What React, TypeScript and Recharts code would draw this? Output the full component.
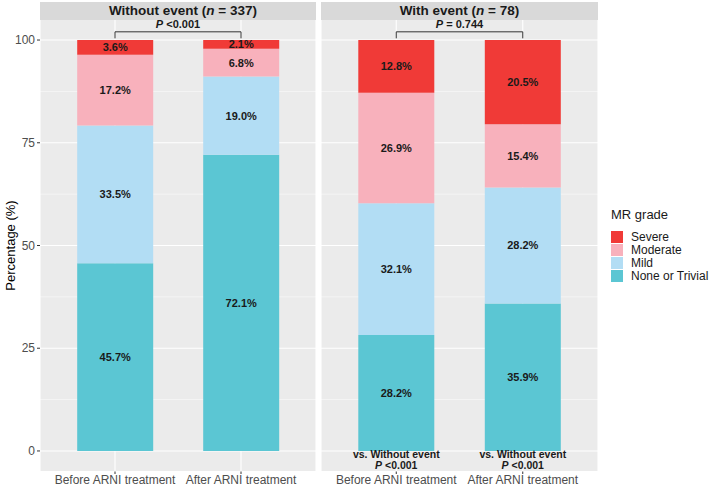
import React from 'react';
import { BarChart, Bar, XAxis, YAxis, CartesianGrid, ReferenceLine, LabelList } from 'recharts';

const treatments = ['Before ARNI treatment', 'After ARNI treatment'];
const gradeKeys = ['none', 'mild', 'moderate', 'severe'];
const gradeNames = ['None or Trivial', 'Mild', 'Moderate', 'Severe'];
const gradeColors = ['#5BC6D3', '#B2DDF4', '#F8B1BC', '#F03A37'];

// without event (n = 337)
const withoutNone = [45.7, 72.1];
const withoutMild = [33.5, 19.0];
const withoutModerate = [17.2, 6.8];
const withoutSevere = [3.6, 2.1];

// with event (n = 78)
const withNone = [28.2, 35.9];
const withMild = [32.1, 28.2];
const withModerate = [26.9, 15.4];
const withSevere = [12.8, 20.5];

const yDomain = [-5, 105];
const yTicks = [0, 25, 50, 75, 100];
const minorTicks = [12.5, 37.5, 62.5, 87.5];
const bracketY = 102;
const bracketFoot = 100.4;

const FONT = '"Liberation Sans", Arial, sans-serif';

const buildRows = (none: number[], mild: number[], moderate: number[], severe: number[]) =>
  treatments.map((t, i) => ({ treatment: t, none: none[i], mild: mild[i], moderate: moderate[i], severe: severe[i] }));

const withoutRows = buildRows(withoutNone, withoutMild, withoutModerate, withoutSevere);
const withRows = buildRows(withNone, withMild, withModerate, withSevere);

function PLabel(props: any) {
  const { viewBox, rest } = props;
  if (!viewBox) return null;
  const cx = viewBox.x + viewBox.width / 2;
  return (
    <text x={cx} y={viewBox.y - 3.5} textAnchor="middle" fontSize={11} fontWeight="bold" fill="#1A1A1A" fontFamily={FONT}>
      <tspan fontStyle="italic">P</tspan>
      {rest}
    </text>
  );
}

function VsNote(props: any) {
  const { x, y, width, height } = props;
  const cx = x + width / 2;
  const base = y + height;
  return (
    <g fontSize={10.5} fontWeight="bold" fill="#1A1A1A" fontFamily={FONT} textAnchor="middle">
      <text x={cx} y={base + 7.5}>vs. Without event</text>
      <text x={cx} y={base + 18.5}>
        <tspan fontStyle="italic">P</tspan> {'<0.001'}
      </text>
    </g>
  );
}

// minor gridlines between the major ticks
function minorLines(props: any) {
  const { yAxis, offset } = props;
  const sc = yAxis && yAxis.scale;
  if (typeof sc === 'function') return minorTicks.map((v) => sc(v));
  if (sc && typeof sc.map === 'function') return minorTicks.map((v) => sc.map(v));
  const [lo, hi] = yDomain;
  return minorTicks.map((v) => offset.top + (offset.height * (hi - v)) / (hi - lo));
}

function Panel({ data, width, showY, pRest, showNote }: any) {
  return (
    <BarChart
      width={width}
      height={486}
      data={data}
      margin={{ top: 19.5, right: 0, left: 0, bottom: 0 }}
      barCategoryGap="20%"
      style={{ fontFamily: FONT }}
    >
      <CartesianGrid fill="#EBEBEB" stroke="#FFFFFF" strokeWidth={1.1} />
      <CartesianGrid vertical={false} stroke="#FFFFFF" strokeWidth={0.5} horizontalCoordinatesGenerator={minorLines} />
      <XAxis
        dataKey="treatment"
        axisLine={false}
        tickSize={2.5}
        tickMargin={2}
        tickLine={{ stroke: '#333333' }}
        tick={{ fill: '#4D4D4D', fontSize: 12, dy: -1 }}
        padding={{ left: 12, right: 12 }}
        height={14.5}
        interval={0}
      />
      <YAxis
        type="number"
        domain={yDomain}
        ticks={yTicks}
        hide={!showY}
        width={40}
        axisLine={false}
        tickSize={3}
        tickLine={{ stroke: '#333333' }}
        tick={{ fill: '#4D4D4D', fontSize: 12 }}
        label={{ value: 'Percentage (%)', angle: -90, position: 'center', dx: -10, style: { fill: '#000', fontSize: 13, textAnchor: 'middle' } }}
      />
      {gradeKeys.map((k, i) => (
        <Bar key={k} dataKey={k} name={gradeNames[i]} stackId="mr" fill={gradeColors[i]} isAnimationActive={false}>
          <LabelList
            dataKey={k}
            position="center"
            formatter={(v: any) => `${Number(v).toFixed(1)}%`}
            style={{ fill: '#1A1A1A', fontSize: 11, fontWeight: 'bold', stroke: 'none' }}
          />
          {showNote && k === 'none' ? <LabelList dataKey={k} content={<VsNote />} /> : null}
        </Bar>
      ))}
      <ReferenceLine
        segment={[{ x: treatments[0], y: bracketY }, { x: treatments[1], y: bracketY }]}
        stroke="#333333"
        strokeWidth={1}
        label={<PLabel rest={pRest} />}
      />
      <ReferenceLine segment={[{ x: treatments[0], y: bracketFoot }, { x: treatments[0], y: bracketY }]} stroke="#333333" strokeWidth={1} />
      <ReferenceLine segment={[{ x: treatments[1], y: bracketFoot }, { x: treatments[1], y: bracketY }]} stroke="#333333" strokeWidth={1} />
    </BarChart>
  );
}

function Strip({ left, width, label, n, shift }: any) {
  return (
    <div
      style={{
        position: 'absolute', left, top: 2, width, height: 17.5, background: '#D9D9D9',
        textAlign: 'center', lineHeight: '17.5px', fontSize: 13.5, fontWeight: 'bold', color: '#1A1A1A',
        boxSizing: 'border-box', paddingLeft: shift || 0,
      }}
    >
      {label} (<i>n</i> = {n})
    </div>
  );
}

export default function App() {
  const legendOrder = [3, 2, 1, 0];
  return (
    <div style={{ position: 'absolute', left: 0, top: 0, width: 709, height: 486, background: '#fff', fontFamily: FONT }}>
      <div style={{ position: 'absolute', left: 0, top: 0 }}>
        <Panel data={withoutRows} width={316} showY pRest=" <0.001" />
      </div>
      <div style={{ position: 'absolute', left: 321, top: 0 }}>
        <Panel data={withRows} width={277} showY={false} pRest=" = 0.744" showNote />
      </div>
      <Strip left={40} width={276} label="Without event" n={337} shift={10} />
      <Strip left={321} width={277} label="With event" n={78} />
      <div style={{ position: 'absolute', left: 611, top: 207, fontSize: 13, color: '#1A1A1A' }}>MR grade</div>
      {legendOrder.map((gi, j) => (
        <div key={gi} style={{ position: 'absolute', left: 611, top: 230 + j * 13, display: 'flex', alignItems: 'center', height: 13 }}>
          <div style={{ width: 12, height: 12, background: gradeColors[gi] }} />
          <span style={{ marginLeft: 8, fontSize: 12, color: '#1A1A1A' }}>{gradeNames[gi]}</span>
        </div>
      ))}
    </div>
  );
}
